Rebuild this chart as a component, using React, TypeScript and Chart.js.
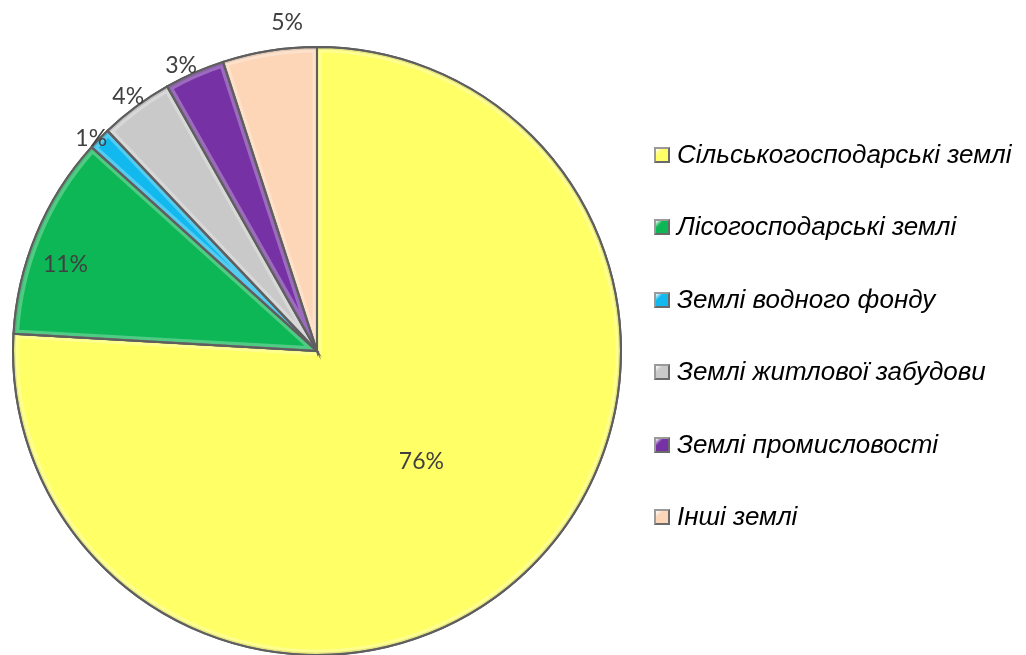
import React, { useEffect, useRef } from "react";
import { Chart, registerables } from "chart.js";

Chart.register(...registerables);

const categories = [
  "Сільськогосподарські землі",
  "Лісогосподарські землі",
  "Землі водного фонду",
  "Землі житлової забудови",
  "Землі промисловості",
  "Інші землі",
];
const values = [75.9, 10.8, 1.2, 3.9, 3.2, 5.0];
const valueLabels = ["76%", "11%", "1%", "4%", "3%", "5%"];
const colors = ["#FFFF66", "#0DB755", "#12B9EE", "#C9C9C9", "#7632A4", "#FDD6B8"];
// label placement: radius factor and angular shift (deg)
const labelRadius = [0.5, 0.875, 1.02, 1.043, 1.04, 1.085];
const labelShift = [0, -3.7, -1, 0, -1.7, 3.8];

const bevelPlugin = {
  id: "bevel",
  afterDatasetsDraw(chart: any) {
    const ctx = chart.ctx;
    const meta = chart.getDatasetMeta(0);
    meta.data.forEach((arc: any) => {
      const { x, y, startAngle, endAngle, outerRadius } = arc.getProps(
        ["x", "y", "startAngle", "endAngle", "outerRadius"],
        true
      );
      ctx.save();
      ctx.beginPath();
      ctx.moveTo(x, y);
      ctx.arc(x, y, outerRadius, startAngle, endAngle);
      ctx.closePath();
      ctx.clip();
      ctx.strokeStyle = "rgba(255,255,255,0.28)";
      ctx.lineWidth = 9;
      ctx.lineJoin = "round";
      ctx.beginPath();
      ctx.moveTo(x, y);
      ctx.arc(x, y, outerRadius - 1, startAngle, endAngle);
      ctx.closePath();
      ctx.stroke();
      ctx.strokeStyle = "rgba(0,0,0,0.10)";
      ctx.lineWidth = 3;
      ctx.stroke();
      ctx.restore();
      ctx.save();
      ctx.strokeStyle = "#5E5E5E";
      ctx.lineWidth = 2;
      ctx.lineJoin = "miter";
      ctx.beginPath();
      ctx.moveTo(x, y);
      ctx.arc(x, y, outerRadius, startAngle, endAngle);
      ctx.closePath();
      ctx.stroke();
      ctx.restore();
    });
  },
};

const labelsPlugin = {
  id: "sliceLabels",
  afterDraw(chart: any) {
    const ctx = chart.ctx;
    const meta = chart.getDatasetMeta(0);
    ctx.save();
    ctx.font = "23px Lato, 'Open Sans', sans-serif";
    ctx.fillStyle = "#404040";
    ctx.textAlign = "center";
    ctx.textBaseline = "middle";
    meta.data.forEach((arc: any, i: number) => {
      const { x, y, startAngle, endAngle, outerRadius } = arc.getProps(
        ["x", "y", "startAngle", "endAngle", "outerRadius"],
        true
      );
      const mid = (startAngle + endAngle) / 2 + (labelShift[i] * Math.PI) / 180;
      const r = outerRadius * labelRadius[i];
      ctx.fillText(valueLabels[i], x + Math.cos(mid) * r, y + Math.sin(mid) * r);
    });
    ctx.restore();
  },
};

const legendPlugin = {
  id: "sideLegend",
  afterDraw(chart: any) {
    const ctx = chart.ctx;
    const left = 654;
    const top = 155;
    const step = 72.4;
    const box = 16;
    ctx.save();
    ctx.font = "italic 26px 'Liberation Sans', Arial, sans-serif";
    ctx.textBaseline = "middle";
    ctx.textAlign = "left";
    chart.data.labels.forEach((lab: string, i: number) => {
      const cy = Math.round(top + i * step);
      const bx = left;
      const by = cy - box / 2;
      ctx.fillStyle = "#6A6A6A";
      ctx.fillRect(bx, by, box, box);
      ctx.fillStyle = "#9A9A9A";
      ctx.beginPath();
      ctx.moveTo(bx, by);
      ctx.lineTo(bx + box, by);
      ctx.lineTo(bx, by + box);
      ctx.closePath();
      ctx.fill();
      const g = ctx.createLinearGradient(bx + 2, by + 2, bx + box - 2, by + box - 2);
      g.addColorStop(0, "#ffffff");
      g.addColorStop(0.3, colors[i]);
      g.addColorStop(1, colors[i]);
      ctx.fillStyle = g;
      ctx.fillRect(bx + 2, by + 2, box - 4, box - 4);
      ctx.fillStyle = "#000000";
      ctx.fillText(lab, 677, cy + 1);
    });
    ctx.restore();
  },
};

export default function App() {
  const ref = useRef<HTMLCanvasElement>(null);
  useEffect(() => {
    if (!ref.current) return;
    const chart = new Chart(ref.current, {
      type: "pie",
      data: {
        labels: categories,
        datasets: [
          {
            data: values,
            backgroundColor: colors,
            borderColor: "#5E5E5E",
            borderWidth: 2,
          },
        ],
      },
      options: {
        responsive: false,
        animation: false,
        layout: { padding: { left: 12, right: 404, top: 46, bottom: 14 } },
        plugins: {
          legend: { display: false },
          tooltip: { enabled: false },
        },
      },
      plugins: [bevelPlugin, labelsPlugin, legendPlugin],
    });
    return () => chart.destroy();
  }, []);
  return (
    <div
      style={{
        position: "fixed",
        left: 0,
        top: 0,
        width: 1026,
        height: 655,
        overflow: "hidden",
        background: "#ffffff",
      }}
    >
      <canvas ref={ref} width={1026} height={670} style={{ display: "block" }} />
    </div>
  );
}
